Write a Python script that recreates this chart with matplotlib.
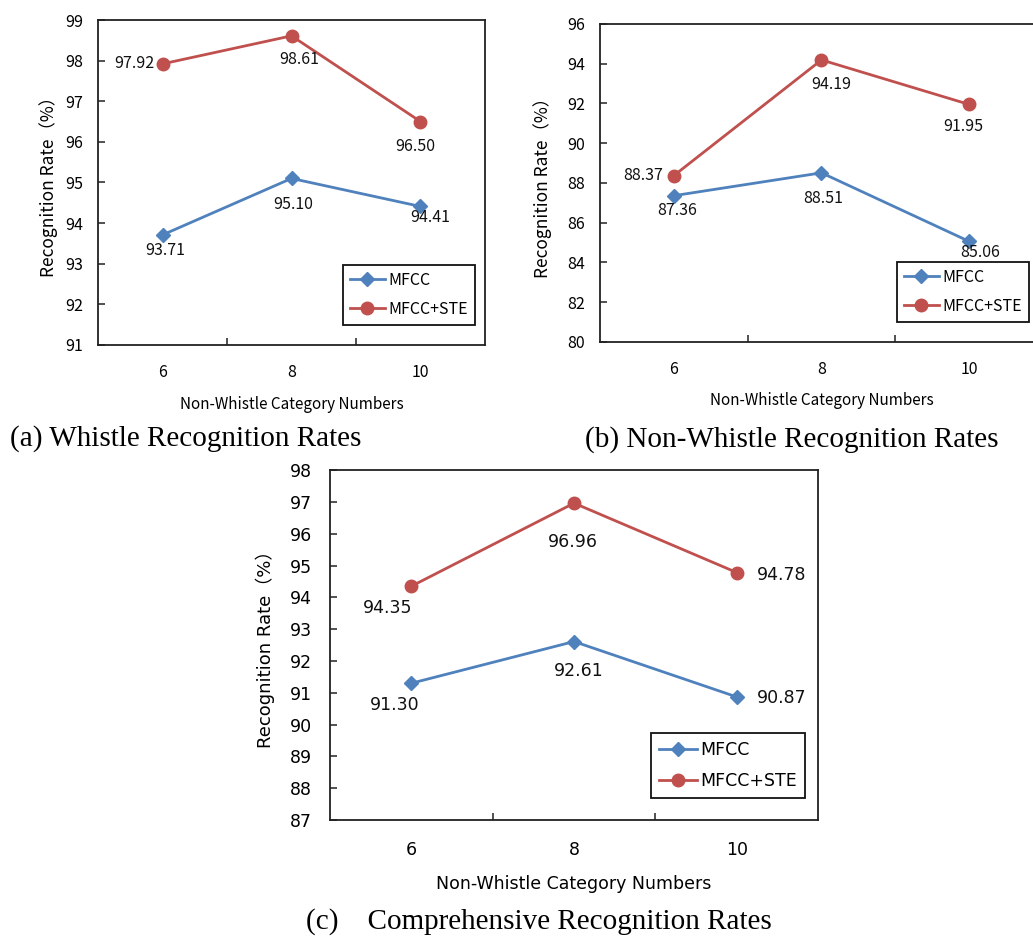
import matplotlib
matplotlib.use("Agg")
import matplotlib.pyplot as plt
from matplotlib.ticker import FixedLocator

# category axis and series values for the three panels
categories = ["6", "8", "10"]

whistle_mfcc = [93.71, 95.10, 94.41]
whistle_ste = [97.92, 98.61, 96.50]

nonwhistle_mfcc = [87.36, 88.51, 85.06]
nonwhistle_ste = [88.37, 94.19, 91.95]

overall_mfcc = [91.30, 92.61, 90.87]
overall_ste = [94.35, 96.96, 94.78]

BLUE = "#4F81BD"
RED = "#C0504D"
SANS_AB = ["Noto Sans CJK SC", "DejaVu Sans"]
SANS_C = ["DejaVu Sans", "Noto Sans CJK SC"]
SERIF = ["Liberation Serif", "DejaVu Serif"]

# label offsets in pixels (dx, dy, ha) for each point of each series
OFF_A_MFCC = [(3, -16, "center"), (2, -26, "center"), (10, -11, "center")]
OFF_A_STE = [(-8, 0, "right"), (8, -24, "center"), (-5, -25, "center")]
OFF_B_MFCC = [(3, -15, "center"), (2, -26, "center"), (11, -11, "center")]
OFF_B_STE = [(-11, 0, "right"), (10, -25, "center"), (-6, -22, "center")]
OFF_C_MFCC = [(-17, -22, "center"), (5, -29, "center"), (20, -1, "left")]
OFF_C_STE = [(-24, -22, "center"), (-1, -39, "center"), (20, -2, "left")]


def panel(fig, rect, mfcc, ste, ylim, ystep, offs_m, offs_s, family, fs,
          xlab_fs, ylab_fs, ylab_x, legend_anchor, ypad, xpad):
    ax = fig.add_axes(rect)
    x = list(range(len(categories)))
    ax.plot(x, mfcc, color=BLUE, lw=2.0, marker="D", ms=7,
            label="MFCC", zorder=3)
    ax.plot(x, ste, color=RED, lw=2.0, marker="o", ms=9,
            label="MFCC+STE", zorder=3)

    for vals, offs in ((mfcc, offs_m), (ste, offs_s)):
        for i, (v, (dx, dy, ha)) in enumerate(zip(vals, offs)):
            ax.annotate(f"{v:.2f}", xy=(i, v), xytext=(dx, dy),
                        textcoords="offset pixels", ha=ha, va="center",
                        fontsize=fs, family=family, color="#111111")

    ax.set_xlim(-0.5, len(categories) - 0.5)
    ax.set_ylim(*ylim)
    ax.set_xticks(x)
    ax.set_xticklabels(categories)
    ax.xaxis.set_minor_locator(FixedLocator([0.5, 1.5]))
    ax.set_yticks(range(ylim[0], ylim[1] + 1, ystep))
    ax.tick_params(axis="x", which="major", length=0, pad=xpad,
                   labelsize=fs)
    ax.tick_params(axis="x", which="minor", direction="in", length=5,
                   width=1.1, color="#222222")
    ax.tick_params(axis="y", direction="in", length=5, width=1.1,
                   color="#222222", pad=ypad, labelsize=fs)
    for lab in ax.get_xticklabels() + ax.get_yticklabels():
        lab.set_family(family)
    for sp in ax.spines.values():
        sp.set_color("#222222")
        sp.set_linewidth(1.3)

    ax.set_ylabel("Recognition Rate（%）", family=family, fontsize=ylab_fs,
                  va="center")
    ax.yaxis.set_label_coords(ylab_x, 0.5)
    ax.set_xlabel("Non-Whistle Category Numbers", family=family,
                  fontsize=xlab_fs, va="center")
    ax.xaxis.set_label_coords(0.5, -0.183)

    leg = ax.legend(loc="lower right", bbox_to_anchor=legend_anchor,
                    borderaxespad=0, fancybox=False, framealpha=1,
                    edgecolor="#111111", handlelength=2.2,
                    handletextpad=0.2, labelspacing=0.75, borderpad=0.45,
                    prop={"family": family, "size": fs})
    leg.get_frame().set_linewidth(1.3)
    return ax


fig = plt.figure(figsize=(10.33, 9.39), dpi=100)

panel(fig, [0.0949, 0.6326, 0.3746, 0.3461], whistle_mfcc, whistle_ste,
      (91, 99), 1, OFF_A_MFCC, OFF_A_STE, SANS_AB, 11.5, 11, 12.5,
      -0.127, (0.974, 0.0615), 11, 14)
panel(fig, [0.5808, 0.6358, 0.4289, 0.3387], nonwhistle_mfcc, nonwhistle_ste,
      (80, 96), 2, OFF_B_MFCC, OFF_B_STE, SANS_AB, 11.5, 11, 12.5,
      -0.129, (0.968, 0.063), 11, 14)
panel(fig, [0.3195, 0.1267, 0.4724, 0.3727], overall_mfcc, overall_ste,
      (87, 98), 1, OFF_C_MFCC, OFF_C_STE, SANS_C, 12.5, 12.5, 13,
      -0.133, (0.973, 0.063), 13, 15)

fig.text(10 / 1033, 0.5335, "(a) Whistle Recognition Rates", family=SERIF,
         fontsize=21, ha="left", va="center")
fig.text(0.766, 0.5314, "(b) Non-Whistle Recognition Rates", family=SERIF,
         fontsize=21, ha="center", va="center")
fig.text(0.5218, 0.0181, "(c)    Comprehensive Recognition Rates",
         family=SERIF, fontsize=21, ha="center", va="center")

fig.savefig("out.png", dpi=100)
